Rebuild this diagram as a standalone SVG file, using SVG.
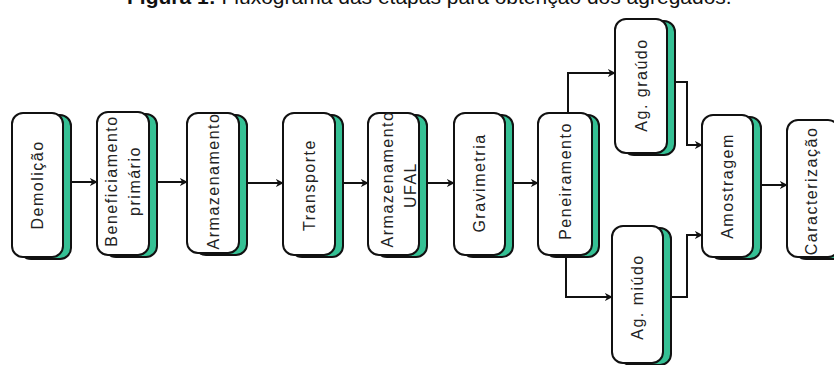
<svg xmlns="http://www.w3.org/2000/svg" width="834" height="365" viewBox="0 0 834 365">
<defs>
<style>
.sh{fill:#35c094;stroke:#111;stroke-width:2}
.bx{fill:#fff;stroke:#111;stroke-width:2}
.t{font-family:"Liberation Sans",Arial,sans-serif;font-size:16px;letter-spacing:1.5px;fill:#222;text-anchor:middle;dominant-baseline:central}
.c{fill:none;stroke:#111;stroke-width:2;marker-end:url(#ar)}
.title{font-family:"Liberation Sans",Arial,sans-serif;font-size:21px;fill:#111}
</style>
<marker id="ar" viewBox="0 0 10 10" refX="9" refY="5" markerWidth="4" markerHeight="4" orient="auto" markerUnits="strokeWidth">
<path d="M0,0 L10,5 L0,10 L3,5 Z" fill="#111"/>
</marker>
</defs>
<rect width="834" height="365" fill="#fff"/>
<text class="title" x="127" y="4"><tspan font-weight="bold">Figura 1:</tspan> Fluxograma das etapas para obtenção dos agregados.</text>

<g id="connectors">
<path class="c" d="M71 182 H97"/>
<path class="c" d="M157 182 H187"/>
<path class="c" d="M247 183 H283"/>
<path class="c" d="M343 183 H368"/>
<path class="c" d="M427 183 H454"/>
<path class="c" d="M513 183 H538"/>
<path class="c" d="M568 113 V73 H615"/>
<path class="c" d="M566 255 V297 H612"/>
<path class="c" d="M675 82 H687 V145 H702"/>
<path class="c" d="M672 297 H687 V235 H702"/>
<path class="c" d="M761 185 H787"/>
</g>

<g id="n-demolicao">
<rect class="sh" x="20" y="115" width="51" height="144" rx="11"/>
<rect class="bx" x="12" y="113" width="51" height="144" rx="11"/>
<text class="t" transform="translate(37.5 185) rotate(-90)">Demolição</text>
</g>
<g id="n-beneficiamento">
<rect class="sh" x="105" y="114" width="52" height="143" rx="11"/>
<rect class="bx" x="97" y="112" width="52" height="143" rx="11"/>
<text class="t" transform="translate(111 181) rotate(-90)">Beneficiamento</text>
<text class="t" transform="translate(134 181) rotate(-90)">primário</text>
</g>
<g id="n-armazenamento">
<rect class="sh" x="195" y="115" width="52" height="140" rx="11"/>
<rect class="bx" x="187" y="113" width="52" height="140" rx="11"/>
<text class="t" transform="translate(213 181) rotate(-90)">Armazenamento</text>
</g>
<g id="n-transporte">
<rect class="sh" x="291" y="115" width="52" height="142" rx="11"/>
<rect class="bx" x="283" y="113" width="52" height="142" rx="11"/>
<text class="t" transform="translate(309 185) rotate(-90)">Transporte</text>
</g>
<g id="n-armazenamento-ufal">
<rect class="sh" x="376" y="115" width="51" height="142" rx="11"/>
<rect class="bx" x="368" y="113" width="51" height="142" rx="11"/>
<text class="t" transform="translate(387 179) rotate(-90)">Armazenamento</text>
<text class="t" transform="translate(410 185) rotate(-90)">UFAL</text>
</g>
<g id="n-gravimetria">
<rect class="sh" x="462" y="115" width="51" height="142" rx="11"/>
<rect class="bx" x="454" y="113" width="51" height="142" rx="11"/>
<text class="t" transform="translate(479.5 183) rotate(-90)">Gravimetria</text>
</g>
<g id="n-peneiramento">
<rect class="sh" x="545" y="115" width="54" height="142" rx="11"/>
<rect class="bx" x="538" y="113" width="54" height="142" rx="11"/>
<text class="t" transform="translate(565 181) rotate(-90)">Peneiramento</text>
</g>
<g id="n-ag-graudo">
<rect class="sh" x="623" y="21" width="52" height="134" rx="11"/>
<rect class="bx" x="615" y="19" width="52" height="134" rx="11"/>
<text class="t" transform="translate(641 85) rotate(-90)">Ag. graúdo</text>
</g>
<g id="n-ag-miudo">
<rect class="sh" x="620" y="228" width="51" height="137" rx="11"/>
<rect class="bx" x="612" y="226" width="51" height="137" rx="11"/>
<text class="t" transform="translate(637.5 297) rotate(-90)">Ag. miúdo</text>
</g>
<g id="n-amostragem">
<rect class="sh" x="710" y="117" width="51" height="142" rx="11"/>
<rect class="bx" x="702" y="115" width="51" height="142" rx="11"/>
<text class="t" transform="translate(727.5 186) rotate(-90)">Amostragem</text>
</g>
<g id="n-caracterizacao">
<rect class="sh" x="795" y="122" width="52" height="137" rx="11"/>
<rect class="bx" x="787" y="120" width="52" height="137" rx="11"/>
<text class="t" transform="translate(811 191) rotate(-90)">Caracterização</text>
</g>
</svg>
